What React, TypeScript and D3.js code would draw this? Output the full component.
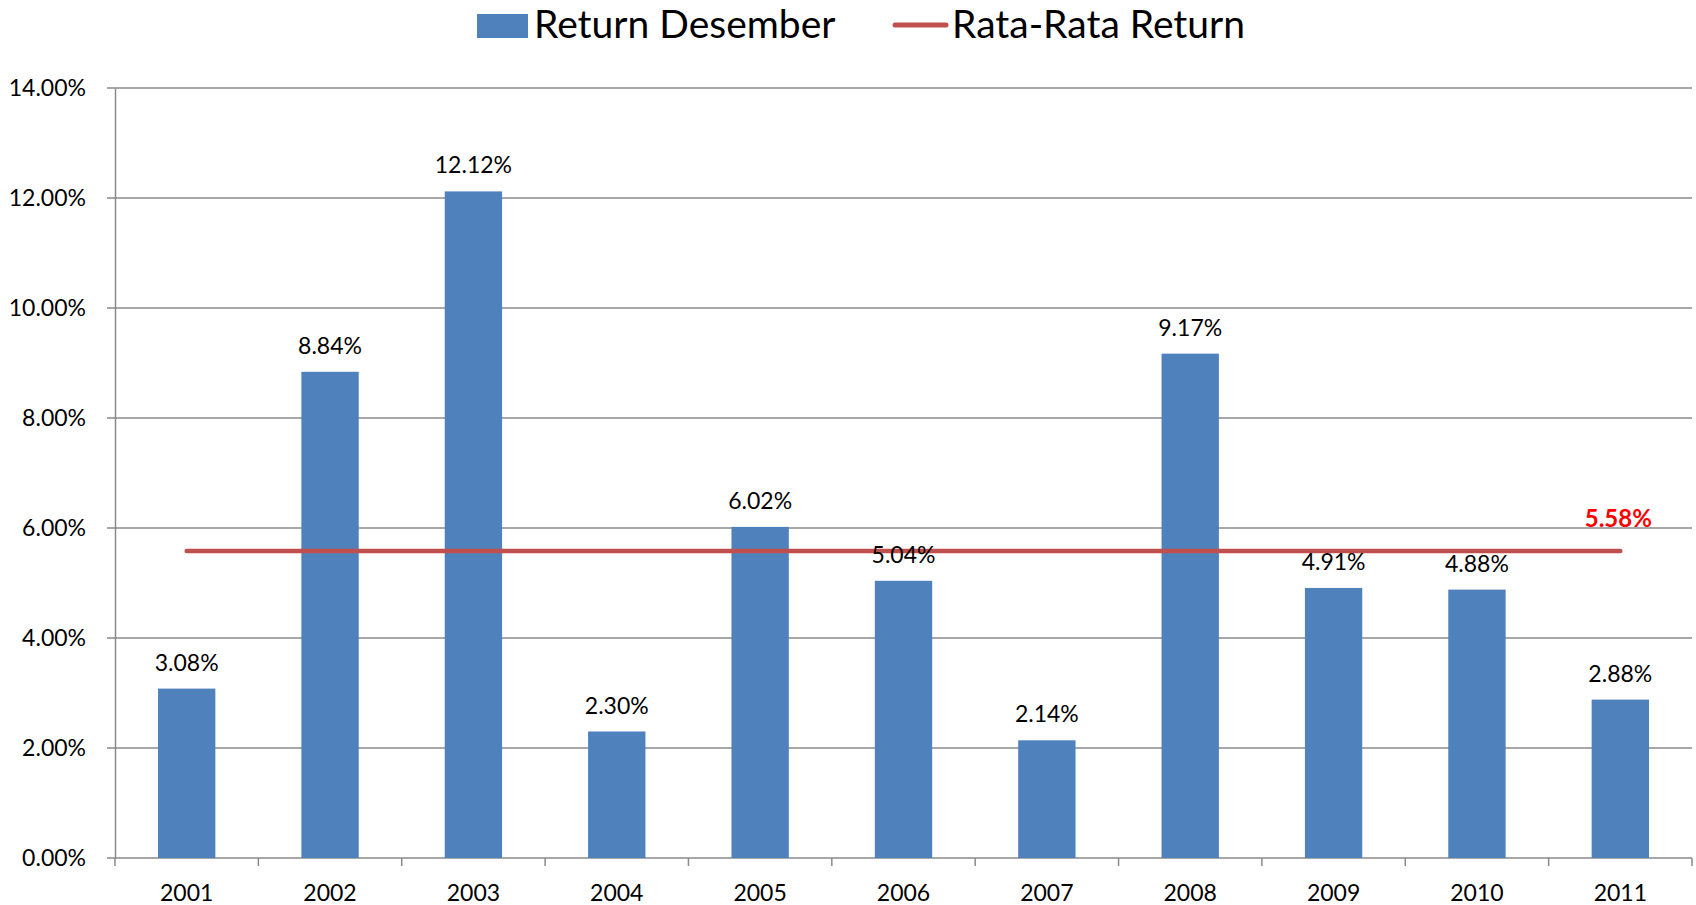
import React, { useRef, useEffect } from "react";
import * as d3 from "d3";

// data
const years = ["2001", "2002", "2003", "2004", "2005", "2006", "2007", "2008", "2009", "2010", "2011"];
const returns = [3.08, 8.84, 12.12, 2.3, 6.02, 5.04, 2.14, 9.17, 4.91, 4.88, 2.88];
const averageReturn = 5.58;
const yTicks = [0, 2, 4, 6, 8, 10, 12, 14];
const legendLabels = ["Return Desember", "Rata-Rata Return"];

const W = 1696;
const H = 905;
const FONT = "Lato, 'Open Sans', sans-serif";

const App = () => {
  const svgRef = useRef<SVGSVGElement>(null);

  useEffect(() => {
    document.body.style.margin = "0";
    const svg = d3.select(svgRef.current);
    svg.selectAll("*").remove();

    const margin = { top: 88, right: 4, bottom: 47, left: 115 };
    const x0 = margin.left;
    const x1 = W - margin.right;
    const yBottom = H - margin.bottom;

    const x = d3.scaleBand().domain(years).range([x0, x1]).paddingInner(0.6).paddingOuter(0.3);
    const y = d3.scaleLinear().domain([0, 14]).range([yBottom, margin.top]);
    const step = x.step();
    const gap = (step - x.bandwidth()) / 2;

    // gridlines
    svg.append("g")
      .selectAll("line")
      .data(yTicks)
      .enter()
      .append("line")
      .attr("x1", x0 - 8)
      .attr("x2", x1)
      .attr("y1", (d) => y(d))
      .attr("y2", (d) => y(d))
      .attr("stroke", "#8a8a8a")
      .attr("stroke-width", 1.5);

    // y axis
    const yAxis = svg.append("g")
      .attr("transform", `translate(${x0},0)`)
      .call(d3.axisLeft(y).tickValues(yTicks).tickSize(0).tickPadding(29).tickFormat((d) => `${(+d).toFixed(2)}%`));
    yAxis.select(".domain").attr("stroke", "#8a8a8a").attr("stroke-width", 1.5);
    yAxis.selectAll("text").attr("font-family", FONT).attr("font-size", 23).attr("fill", "#000");

    // x axis ticks at band boundaries
    const bounds = years.map((yr) => (x(yr) as number) - gap).concat([x1]);
    svg.append("g")
      .selectAll("line")
      .data(bounds)
      .enter()
      .append("line")
      .attr("x1", (d) => d)
      .attr("x2", (d) => d)
      .attr("y1", yBottom)
      .attr("y2", yBottom + 8)
      .attr("stroke", "#8a8a8a")
      .attr("stroke-width", 1.5);

    svg.append("g")
      .selectAll("text")
      .data(years)
      .enter()
      .append("text")
      .attr("x", (d) => (x(d) as number) + x.bandwidth() / 2)
      .attr("y", yBottom + 43)
      .attr("text-anchor", "middle")
      .attr("font-family", FONT)
      .attr("font-size", 23)
      .text((d) => d);

    // bars
    svg.append("g")
      .selectAll("rect")
      .data(returns)
      .enter()
      .append("rect")
      .attr("x", (_, i) => x(years[i]) as number)
      .attr("width", x.bandwidth())
      .attr("y", (d) => y(d))
      .attr("height", (d) => yBottom - y(d))
      .attr("fill", "#4f81bd");

    // average line
    const cx = (yr: string) => (x(yr) as number) + x.bandwidth() / 2;
    const avgLine = d3.line<string>().x((d) => cx(d)).y(() => y(averageReturn));
    svg.append("path")
      .attr("d", avgLine([years[0], years[years.length - 1]]))
      .attr("stroke", "#c0504d")
      .attr("stroke-width", 4.5)
      .attr("stroke-linecap", "round")
      .attr("fill", "none");

    // data labels
    svg.append("g")
      .selectAll("text")
      .data(returns)
      .enter()
      .append("text")
      .attr("x", (_, i) => cx(years[i]))
      .attr("y", (d) => y(d) - 18)
      .attr("text-anchor", "middle")
      .attr("font-family", FONT)
      .attr("font-size", 23)
      .text((d) => `${d.toFixed(2)}%`);

    svg.append("text")
      .attr("x", cx(years[years.length - 1]) - 2)
      .attr("y", y(averageReturn) - 24)
      .attr("text-anchor", "middle")
      .attr("font-family", FONT)
      .attr("font-size", 24)
      .attr("font-weight", "bold")
      .attr("fill", "#ff0000")
      .text(`${averageReturn.toFixed(2)}%`);

    // legend
    const lg = svg.append("g");
    lg.append("rect").attr("x", 477).attr("y", 14).attr("width", 51).attr("height", 24).attr("fill", "#4f81bd");
    lg.append("text").attr("x", 534).attr("y", 38).attr("font-family", FONT).attr("font-size", 39).text(legendLabels[0]);
    lg.append("line")
      .attr("x1", 895).attr("x2", 946).attr("y1", 25).attr("y2", 25)
      .attr("stroke", "#c0504d").attr("stroke-width", 5).attr("stroke-linecap", "round");
    lg.append("text").attr("x", 952).attr("y", 38).attr("font-family", FONT).attr("font-size", 39).text(legendLabels[1]);
  }, []);

  return <svg ref={svgRef} width={W} height={H} style={{ display: "block", background: "#fff" }} />;
};

export default App;
